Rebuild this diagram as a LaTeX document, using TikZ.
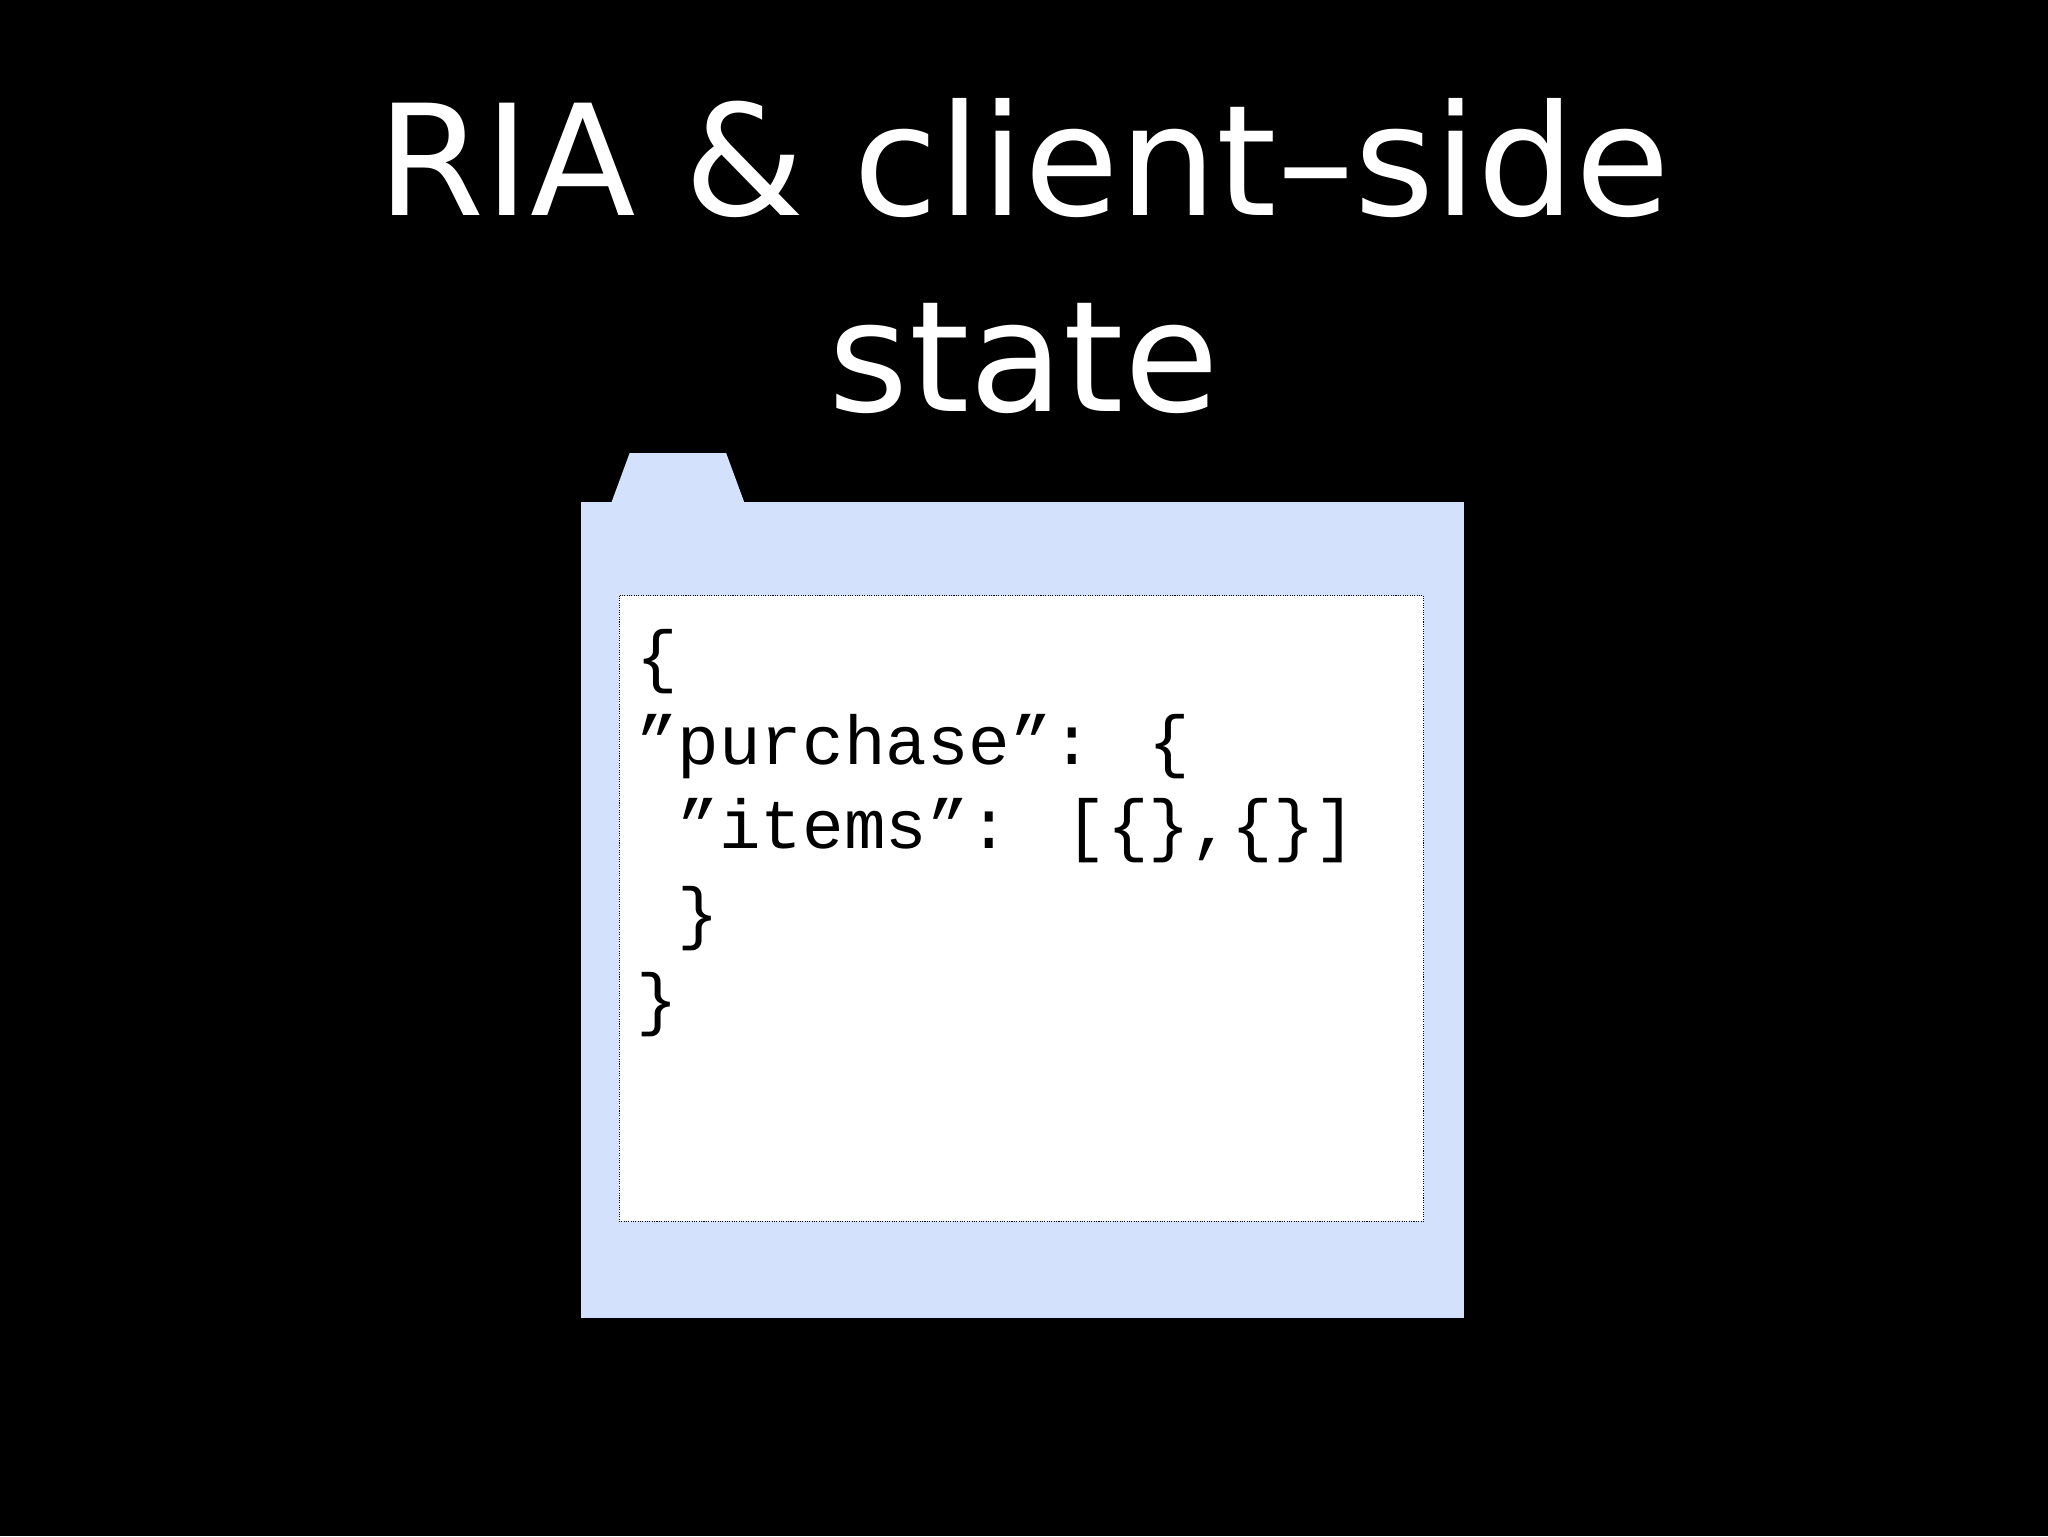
\documentclass[tikz,border=0pt]{standalone}
\usepackage{fontspec}
\setmainfont{DejaVu Sans}
\newfontfamily\codefont{Liberation Mono}
\definecolor{folder}{HTML}{D3E1FC}
\begin{document}
\begin{tikzpicture}[x=1pt,y=-1pt,
  titletext/.style={text=white,font=\fontsize{118}{118}\selectfont,anchor=base,inner sep=0},
  codetext/.style={font=\codefont\fontsize{53}{53}\selectfont,anchor=base west,inner sep=0}]
\fill[black] (0,0) rectangle (1568,1176);
\useasboundingbox (0,0) rectangle (1568,1176);
\node[titletext] (t1) at (784,165) {RIA \& client–side};
\node[titletext] (t2) at (784,315) {state};
\fill[folder] (468,385) -- (482,347) -- (556,347) -- (570,385) -- cycle;
\fill[folder] (445,384) rectangle (1121,1009);
\draw[fill=white,densely dotted,line width=0.8pt] (474,456) rectangle (1090,935);
\node[codetext] (c1) at (487,520) {\{};
\node[codetext] (c2) at (487,585) {”purchase”: \{};
\node[codetext] (c3) at (487,650) {\ ”items”: [\{\},\{\}]};
\node[codetext] (c4) at (487,717) {\ \}};
\node[codetext] (c5) at (487,783) {\}};
\end{tikzpicture}
\end{document}
